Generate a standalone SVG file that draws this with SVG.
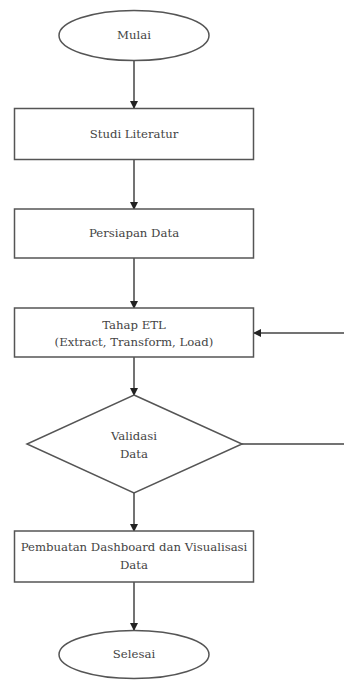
<svg xmlns="http://www.w3.org/2000/svg" width="344" height="680" viewBox="0 0 344 680">
<style>
.s{fill:#fff;stroke:#555;stroke-width:1.5}
.t{font-family:'DejaVu Serif','Liberation Serif',serif;font-size:11.7px;fill:#444;text-anchor:middle;dominant-baseline:central}
.c{stroke:#444;stroke-width:1.5;fill:none}
</style>
<defs>
<marker id="a" markerWidth="8" markerHeight="8" refX="7" refY="4" orient="auto" markerUnits="userSpaceOnUse">
<path d="M0,0 L8,4 L0,8 z" fill="#222"/>
</marker>
</defs>
<rect width="344" height="680" fill="#fff"/>
<g id="connectors">
<line class="c" x1="134" y1="61" x2="134" y2="108" marker-end="url(#a)"/>
<line class="c" x1="134" y1="159" x2="134" y2="209" marker-end="url(#a)"/>
<line class="c" x1="134" y1="258" x2="134" y2="308" marker-end="url(#a)"/>
<line class="c" x1="134" y1="357" x2="134" y2="395" marker-end="url(#a)"/>
<line class="c" x1="134" y1="493" x2="134" y2="531" marker-end="url(#a)"/>
<line class="c" x1="134" y1="582" x2="134" y2="630" marker-end="url(#a)"/>
<line class="c" x1="242" y1="444" x2="344" y2="444"/>
<line class="c" x1="344" y1="333" x2="254" y2="333" marker-end="url(#a)"/>
</g>
<g id="mulai">
<ellipse class="s" cx="134" cy="35.5" rx="75" ry="25"/>
<text class="t" x="134" y="35">Mulai</text>
</g>
<g id="studi">
<rect class="s" x="14.5" y="108.5" width="239" height="51"/>
<text class="t" x="134" y="134">Studi Literatur</text>
</g>
<g id="persiapan">
<rect class="s" x="14.5" y="209" width="239" height="49"/>
<text class="t" x="134" y="233">Persiapan Data</text>
</g>
<g id="etl">
<rect class="s" x="14.5" y="308" width="239" height="49"/>
<text class="t" x="134" y="325">Tahap ETL</text>
<text class="t" x="134" y="342">(Extract, Transform, Load)</text>
</g>
<g id="validasi">
<polygon class="s" points="134,395 242,444 134,493 27,444"/>
<text class="t" x="134" y="436">Validasi</text>
<text class="t" x="134" y="454">Data</text>
</g>
<g id="pembuatan">
<rect class="s" x="14.5" y="531" width="239" height="51"/>
<text class="t" x="134" y="547">Pembuatan Dashboard dan Visualisasi</text>
<text class="t" x="134" y="565">Data</text>
</g>
<g id="selesai">
<ellipse class="s" cx="134" cy="654.5" rx="75" ry="24"/>
<text class="t" x="134" y="654">Selesai</text>
</g>
</svg>
